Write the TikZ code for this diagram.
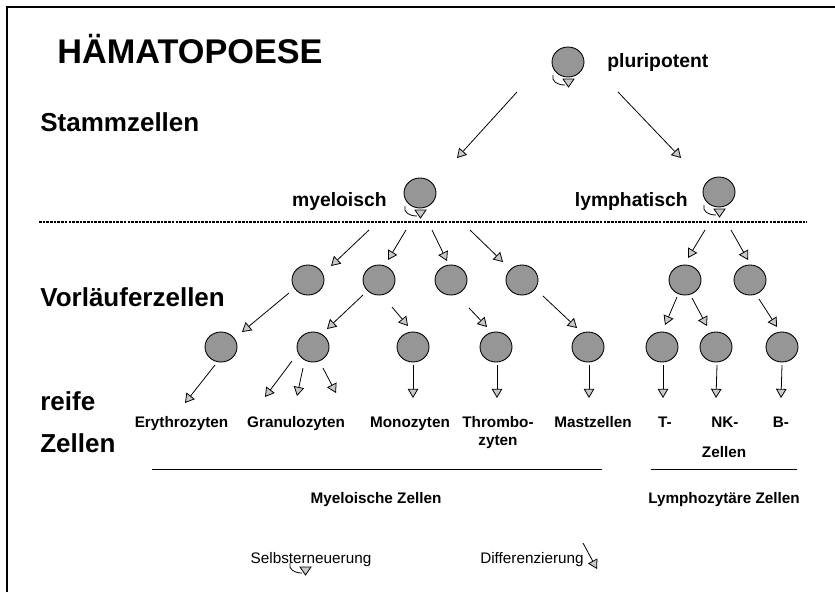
\documentclass[tikz,border=0pt]{standalone}
\usepackage{fontspec}
\setmainfont{Liberation Sans}
\usetikzlibrary{arrows.meta,shapes.geometric}
\definecolor{cellgray}{RGB}{150,150,150}
\definecolor{tipgray}{RGB}{200,200,200}
\tikzset{
cell/.style={ellipse,draw=black,fill=cellgray,minimum width=.64cm,minimum height=.6cm,inner sep=0pt,line width=.5pt},
arr/.style={-{Triangle[length=5.2pt,width=6pt,fill=tipgray]},line width=.45pt},
titel/.style={anchor=base west,inner sep=0pt,font=\fontsize{19.5}{23}\selectfont\bfseries},
ebene/.style={anchor=base west,inner sep=0pt,font=\fontsize{14.8}{17}\selectfont\bfseries},
linie/.style={inner sep=0pt,font=\fontsize{11}{13}\selectfont\bfseries},
typ/.style={anchor=base,inner sep=0pt,font=\fontsize{8.7}{10.2}\selectfont\bfseries},
legende/.style={anchor=base,inner sep=0pt,font=\fontsize{8.7}{10.2}\selectfont},
trenn/.style={line width=1.5pt,dash pattern=on 1.5pt off .6pt},
renew/.pic={
\draw[line width=.45pt] (-15,13) .. controls (-17,19) and (-11,23) .. (-3,23);
\draw[line width=.45pt,fill=tipgray] (-5,17) -- (6,17) -- (0.5,25) -- cycle;
}
}
\begin{document}
\begin{tikzpicture}[x=0.02cm,y=-0.02cm]
\useasboundingbox (0,0) rectangle (835,592);
\draw[line width=.6pt] (7,592) -- (7,7) -- (835,7);
% Ebenen
\node[titel] (ti) at (57,63) {HÄMATOPOESE};
\node[ebene] (st) at (40,131) {Stammzellen};
\node[ebene] (vo) at (40,306) {Vorläuferzellen};
\node[ebene] (re) at (40,410) {reife};
\node[ebene] (ze) at (40,452) {Zellen};
\draw[trenn] (39,222) -- (807,222);
% Stammzellen
\node[cell] (pl) at (568,62) {};
\node[cell] (my) at (420,193) {};
\node[cell] (ly) at (719,192) {};
\node[linie,anchor=base west] (plt) at (607,67) {pluripotent};
\node[linie,anchor=base east] (myt) at (387,206) {myeloisch};
\node[linie,anchor=base east] (lyt) at (688,206) {lymphatisch};
\pic at (pl) {renew};
\pic at (my) {renew};
\pic at (ly) {renew};
% Vorlaeuferzellen
\node[cell] (V1) at (308,280) {};
\node[cell] (V2) at (379,280) {};
\node[cell] (V3) at (451,280) {};
\node[cell] (V4) at (522,280) {};
\node[cell] (L1) at (685,280) {};
\node[cell] (L2) at (750,280) {};
\node[cell] (R1) at (221,347) {};
\node[cell] (R2) at (313,347) {};
\node[cell] (R3) at (413,347) {};
\node[cell] (R4) at (496,347) {};
\node[cell] (Ma) at (588,347) {};
\node[cell] (Tc) at (662,347) {};
\node[cell] (NK) at (716,347) {};
\node[cell] (Bc) at (782,347) {};
% reife Zellen
\node[typ] (ery) at (181.5,427) {Erythrozyten};
\node[typ] (gra) at (296,427) {Granulozyten};
\node[typ] (mon) at (410,427) {Monozyten};
\node[typ,anchor=north,align=center] (thr) at (498,416) {Thrombo-\\zyten};
\node[typ] (mas) at (593,427) {Mastzellen};
\node[typ] (tl) at (665,427) {T-};
\node[typ] (nkl) at (725,427) {NK-};
\node[typ] (bl) at (781,427) {B-};
\node[typ] (zl) at (724,457) {Zellen};
\draw[line width=.5pt] (152,469) -- (602,469);
\draw[line width=.5pt] (651,469) -- (797,469);
\node[typ] (mz) at (376,503) {Myeloische Zellen};
\node[typ] (lz) at (724,503) {Lymphozytäre Zellen};
% Pfeile
\draw[arr] ([shift={(-51,30)}]pl.center) -- ([shift={(37,-35)}]my.center);
\draw[arr] ([shift={(50,30)}]pl.center) -- ([shift={(-38,-34)}]ly.center);
\draw[arr] ([shift={(-51,37)}]my.center) -- ([shift={(23,-14)}]V1.center);
\draw[arr] ([shift={(-14,37)}]my.center) -- ([shift={(9,-20)}]V2.center);
\draw[arr] ([shift={(12,37)}]my.center) -- ([shift={(-4,-19)}]V3.center);
\draw[arr] ([shift={(50,37)}]my.center) -- ([shift={(-19,-18)}]V4.center);
\draw[arr] ([shift={(-14,38)}]ly.center) -- ([shift={(3,-22)}]L1.center);
\draw[arr] ([shift={(12,38)}]ly.center) -- ([shift={(-2,-20)}]L2.center);
\draw[arr] ([shift={(-19,13)}]V1.center) -- ([shift={(21,-15)}]R1.center);
\draw[arr] ([shift={(-16,15)}]V2.center) -- ([shift={(14,-18)}]R2.center);
\draw[arr] ([shift={(13,27)}]V2.center) -- ([shift={(-5,-21)}]R3.center);
\draw[arr] ([shift={(18,28)}]V3.center) -- ([shift={(-9,-20)}]R4.center);
\draw[arr] ([shift={(21,16)}]V4.center) -- ([shift={(-11,-19)}]Ma.center);
\draw[arr] ([shift={(-8,17)}]L1.center) -- ([shift={(3,-22)}]Tc.center);
\draw[arr] ([shift={(7,18)}]L1.center) -- ([shift={(-9,-21)}]NK.center);
\draw[arr] ([shift={(9,19)}]L2.center) -- ([shift={(-5,-20)}]Bc.center);
\draw[arr] ([shift={(-6,18)}]R1.center) -- ([shift={(3.5,-24)}]ery.base);
\draw[arr] ([shift={(-21,14)}]R2.center) -- ([shift={(-31,-30)}]gra.base);
\draw[arr] ([shift={(-10,21)}]R2.center) -- ([shift={(1,-31)}]gra.base);
\draw[arr] ([shift={(10,21)}]R2.center) -- ([shift={(40,-34)}]gra.base);
\draw[arr] ([shift={(0,18)}]R3.center) -- ([shift={(3,-29)}]mon.base);
\draw[arr] ([shift={(1,18)}]R4.center) -- ([shift={(-1,-18)}]thr.north);
\draw[arr] ([shift={(1,18)}]Ma.center) -- ([shift={(-4,-29)}]mas.base);
\draw[arr] ([shift={(1,18)}]Tc.center) -- ([shift={(-2,-29)}]tl.base);
\draw[arr] ([shift={(1,18)}]NK.center) -- ([shift={(-9,-29)}]nkl.base);
\draw[arr] ([shift={(0,18)}]Bc.center) -- ([shift={(0,-29)}]bl.base);
% Legende
\node[legende] (sel) at (311,563) {Selbsterneuerung};
\node[legende] (dif) at (532,563) {Differenzierung};
\pic at ([shift={(-6,-13)}]sel.base) {renew};
\draw[arr] ([shift={(51,-20)}]dif.base) -- ([shift={(65,6)}]dif.base);
\end{tikzpicture}
\end{document}
